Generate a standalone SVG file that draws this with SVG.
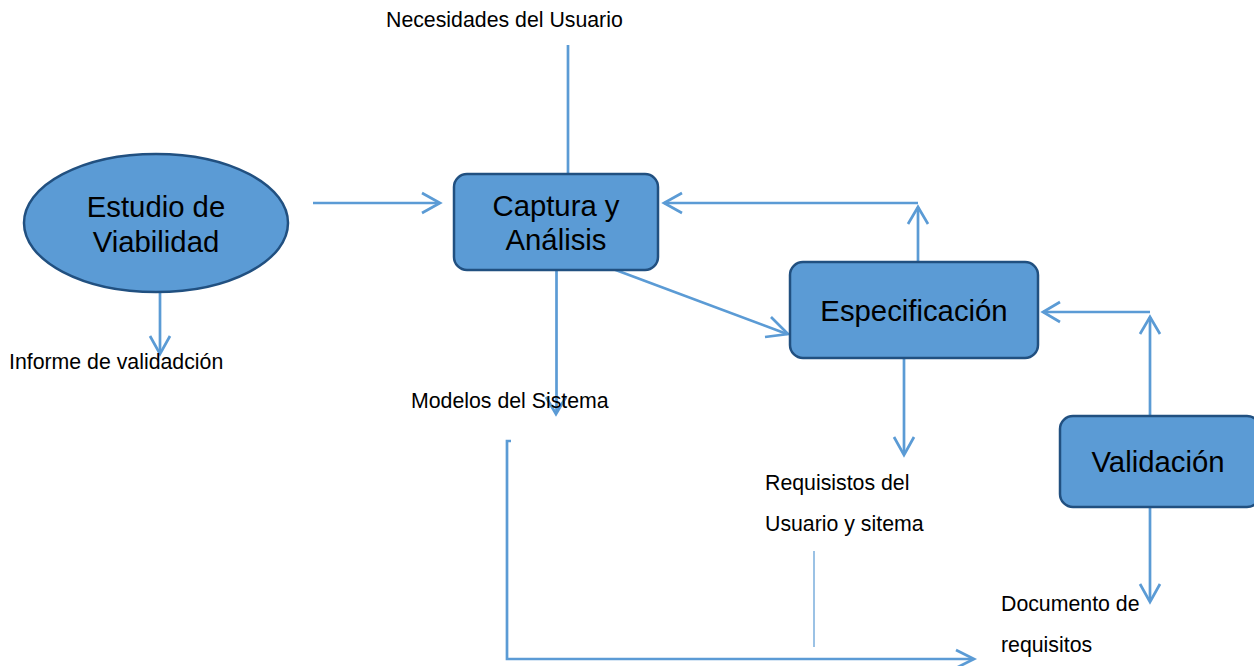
<svg xmlns="http://www.w3.org/2000/svg" width="1254" height="666" viewBox="0 0 1254 666">
<style>
.n{fill:#5b9bd5;stroke:#215080;stroke-width:2.5}
.c{fill:none;stroke:#5b9bd5;stroke-width:2.7}
.h{fill:none;stroke:#5b9bd5;stroke-width:2.7;stroke-linejoin:miter}
text{font-family:"Liberation Sans",Arial,sans-serif;fill:#000}
.b{font-size:29.3px;text-anchor:middle}
.s{font-size:21.3px}
</style>
<rect width="1254" height="666" fill="#fff"/>
<g id="connectors">
<path class="c" d="M568 45V174"/>
<path class="c" d="M313 203H439"/>
<path class="h" d="M422 193L440 203L422 213"/>
<path class="c" d="M160 292V353"/>
<path class="h" d="M150 336L160 354L170 336"/>
<path class="c" d="M556.500 270V413"/>
<path class="h" d="M546 397L556 414L566 397"/>
<path class="c" d="M613 269L787 334"/>
<path class="h" d="M771 317L788 334L765 337"/>
<path class="c" d="M918 203H664"/>
<path class="h" d="M682 193L664 203L682 213"/>
<path class="c" d="M918 262V207"/>
<path class="h" d="M908 224L918 207L928 224"/>
<path class="c" d="M1150 312H1043"/>
<path class="h" d="M1060 302L1043 312L1060 322"/>
<path class="c" d="M1150 416V317"/>
<path class="h" d="M1140 334L1150 317L1160 334"/>
<path class="c" d="M904 358V454"/>
<path class="h" d="M894 437L904 455L914 437"/>
<path class="c" d="M1150 507V601"/>
<path class="h" d="M1140 584L1150 602L1160 584"/>
<path class="c" d="M511 441H507V659H972"/>
<path class="h" d="M956 650L974 659L956 668"/>
<path d="M814 551V647" fill="none" stroke="#7aaedd" stroke-width="1.5"/>
</g>
<g id="estudio"><ellipse class="n" cx="156" cy="223" rx="132" ry="69"/><text class="b" x="156" y="217">Estudio de</text><text class="b" x="156" y="252">Viabilidad</text></g>
<g id="captura"><rect class="n" x="454" y="174" width="204" height="96" rx="13"/><text class="b" x="556" y="216">Captura y</text><text class="b" x="556" y="250">Análisis</text></g>
<g id="especificacion"><rect class="n" x="790" y="262" width="248" height="96" rx="13"/><text class="b" x="914" y="321">Especificación</text></g>
<g id="validacion"><rect class="n" x="1060" y="416" width="200" height="91" rx="13"/><text class="b" x="1158" y="472">Validación</text></g>
<g id="labels">
<text class="s" x="386" y="27">Necesidades del Usuario</text>
<text class="s" x="9" y="369">Informe de validadción</text>
<text class="s" x="411" y="408">Modelos del Sistema</text>
<text class="s" x="765" y="490">Requisistos del</text>
<text class="s" x="765" y="531">Usuario y sitema</text>
<text class="s" x="1001" y="611">Documento de</text>
<text class="s" x="1001" y="652">requisitos</text>
</g>
</svg>
